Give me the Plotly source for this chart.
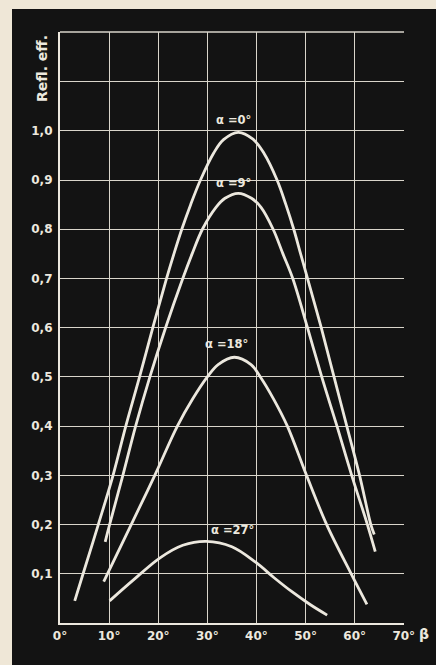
import plotly.graph_objects as go

# ---- data (beta in degrees, reflection efficiency) ----
beta_a0 = [3.0, 4.7, 7.8, 10.8, 13.4, 16.2, 18.9, 21.7, 23.2, 24.8, 26.6, 28.6, 31.3, 33.3, 36.3,
           39.3, 41.5, 44.2, 46.0, 47.6, 49.0, 50.4, 53.2, 55.8, 58.4, 61.0, 63.3, 64.0]
eff_a0 = [0.045, 0.10, 0.20, 0.30, 0.40, 0.50, 0.60, 0.70, 0.75, 0.80, 0.85, 0.90, 0.955, 0.982, 0.997,
          0.983, 0.955, 0.90, 0.85, 0.80, 0.75, 0.70, 0.60, 0.50, 0.40, 0.30, 0.20, 0.18]

beta_a9 = [9.2, 10.1, 12.8, 15.4, 18.3, 21.5, 25.0, 26.9, 29.0, 31.8, 33.6, 36.3,
           39.0, 40.9, 43.4, 45.4, 47.4, 50.4, 53.3, 56.4, 59.4, 62.6, 64.2]
eff_a9 = [0.165, 0.20, 0.30, 0.40, 0.50, 0.60, 0.70, 0.75, 0.80, 0.845, 0.863, 0.873,
          0.863, 0.845, 0.80, 0.75, 0.70, 0.60, 0.50, 0.40, 0.30, 0.20, 0.145]

beta_a18 = [8.9, 14.5, 19.3, 23.9, 27.0, 30.0, 32.2, 35.5, 38.9, 40.8, 43.5, 46.3,
            50.2, 54.3, 59.3, 62.5]
eff_a18 = [0.084, 0.20, 0.30, 0.40, 0.455, 0.50, 0.525, 0.54, 0.525, 0.50, 0.455, 0.40,
           0.30, 0.20, 0.10, 0.038]

beta_a27 = [10.1, 14.9, 20.3, 25.0, 29.8, 35.0, 39.9, 43.6, 47.3, 51.0, 54.4]
eff_a27 = [0.045, 0.087, 0.132, 0.158, 0.166, 0.155, 0.123, 0.092, 0.063, 0.037, 0.016]

series_labels = ["α =0°", "α =9°", "α =18°", "α =27°"]
label_x = [35.4, 35.4, 34.0, 35.2]
label_y = [1.023, 0.895, 0.567, 0.189]

x_tickvals = [0, 10, 20, 30, 40, 50, 60, 70]
x_ticktext = ["0°", "10°", "20°", "30°", "40°", "50°", "60°", "70°"]
y_tickvals = [0.1, 0.2, 0.3, 0.4, 0.5, 0.6, 0.7, 0.8, 0.9, 1.0, 1.1, 1.2]
y_ticktext = ["0,1", "0,2", "0,3", "0,4", "0,5", "0,6", "0,7", "0,8", "0,9", "1,0", "", ""]

INK = "#ece8de"
GRID = "#d9d5cb"
BLACK = "#131313"
PAPER = "#efe7d7"
FONT = "DejaVu Sans"

fig = go.Figure()
for bx, ey in [(beta_a0, eff_a0), (beta_a9, eff_a9), (beta_a18, eff_a18), (beta_a27, eff_a27)]:
    fig.add_trace(go.Scatter(x=bx, y=ey, mode="lines",
                             line=dict(color=INK, width=2.8, shape="spline", smoothing=1.0),
                             showlegend=False, hoverinfo="skip"))

W, H = 436, 665
L, R, T, B = 60, 32, 32, 42
pw, ph = W - L - R, H - T - B

def px_x(p):
    return (p - L) / pw

def px_y(p):
    return (H - B - p) / ph

fig.add_shape(type="rect", xref="paper", yref="paper",
              x0=px_x(12), x1=px_x(440), y0=px_y(670), y1=px_y(9),
              fillcolor=BLACK, line=dict(width=0), layer="below")
# top border of the grid frame
fig.add_shape(type="line", xref="paper", yref="paper", x0=0, x1=1, y0=1, y1=1,
              line=dict(color=GRID, width=1.4))

for txt, lx, ly in zip(series_labels, label_x, label_y):
    fig.add_annotation(x=lx, y=ly, text="<b>" + txt + "</b>", showarrow=False,
                       xanchor="center", yanchor="middle",
                       font=dict(family=FONT, size=11.5, color=INK))

fig.add_annotation(xref="paper", yref="paper", x=px_x(424), y=px_y(634),
                   xanchor="center", yanchor="middle",
                   text="<b>β</b>", showarrow=False,
                   font=dict(family=FONT, size=14, color=INK))
fig.add_annotation(xref="paper", yref="paper", x=px_x(42), y=px_y(69),
                   xanchor="center", yanchor="middle",
                   text="<b>Refl. eff.</b>", textangle=-90, showarrow=False,
                   font=dict(family=FONT, size=14, color=INK))

fig.update_layout(
    width=W, height=H,
    margin=dict(l=L, r=R, t=T, b=B),
    paper_bgcolor=PAPER, plot_bgcolor=BLACK,
    font=dict(family=FONT, size=12, color=INK),
    xaxis=dict(range=[0, 70.05], tickvals=x_tickvals, ticktext=x_ticktext,
               showgrid=True, gridcolor=GRID, gridwidth=1.4,
               showline=True, linecolor=INK, linewidth=2.2,
               zeroline=False, ticks="", ticklabelstandoff=0,
               tickfont=dict(family=FONT, size=12, color=INK, weight="bold")),
    yaxis=dict(range=[0, 1.2008], tickvals=y_tickvals, ticktext=y_ticktext,
               showgrid=True, gridcolor=GRID, gridwidth=1.4,
               showline=True, linecolor=INK, linewidth=2.2,
               zeroline=False, ticks="", ticklabelstandoff=3,
               tickfont=dict(family=FONT, size=12, color=INK, weight="bold")),
)

fig.write_html("out.html", config={"displayModeBar": False},
               post_script="document.body.style.margin='0';document.body.style.overflow='hidden';")
